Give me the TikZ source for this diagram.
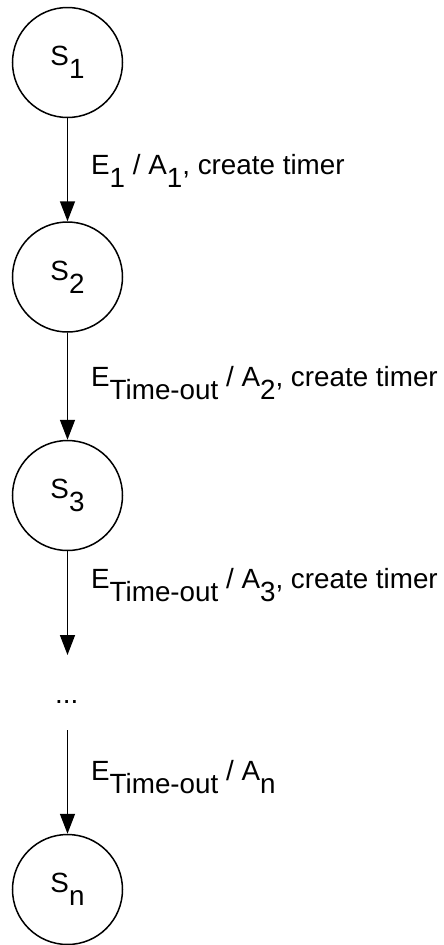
\documentclass[tikz,border=0pt]{standalone}
\usepackage{fontspec}
\usetikzlibrary{arrows.meta}
\newfontfamily\lab{Liberation Sans}
\newcommand\lsub[1]{\lower13pt\hbox{#1}}
\tikzset{
  statenode/.style={circle,draw,line width=1.5pt,minimum size=110pt,inner sep=0pt,
    font=\lab\fontsize{27.8}{32}\selectfont},
  trans/.style={line width=1.5pt,-{Triangle[length=20pt,width=15pt]}},
  tlabel/.style={anchor=base west,inner sep=0pt,font=\lab\fontsize{27.8}{32}\selectfont},
}
\begin{document}
\begin{tikzpicture}[x=1pt,y=-1pt]
\useasboundingbox (0,0) rectangle (444,945);
\node[statenode] (s1) at (67.5,62.5) {S\lsub{1}};
\node[statenode] (s2) at (67.5,277) {S\lsub{2}};
\node[statenode] (s3) at (67.5,495.5) {S\lsub{3}};
\node[statenode] (sn) at (67.5,889.5) {S\lsub{n}};
\node[tlabel] (dots) at (55,703) {...};
\coordinate (e3) at (67.5,655);
\coordinate (b4) at (67.5,730);
\draw[trans] (s1) -- (s2);
\draw[trans] (s2) -- (s3);
\draw[trans] (s3) -- (e3);
\draw[trans] (b4) -- (sn);
\node[tlabel] (l1) at (91,174) {E\lsub{1} / A\lsub{1}, create timer};
\node[tlabel] (l2) at (91,386) {E\lsub{Time-out} / A\lsub{2}, create timer};
\node[tlabel] (l3) at (91,588) {E\lsub{Time-out} / A\lsub{3}, create timer};
\node[tlabel] (l4) at (91,780) {E\lsub{Time-out} / A\lsub{n}};
\end{tikzpicture}
\end{document}
